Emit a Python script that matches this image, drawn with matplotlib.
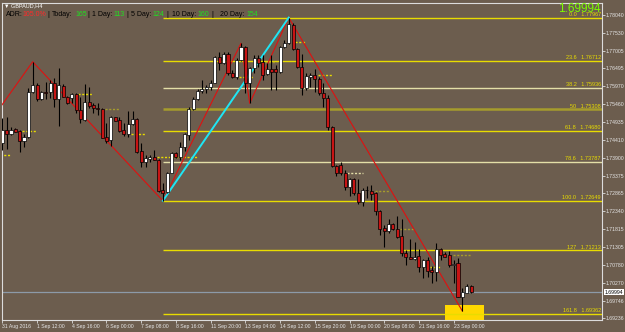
import matplotlib
matplotlib.use("Agg")
import matplotlib.pyplot as plt
import matplotlib.transforms as mtransforms
from matplotlib.patches import Rectangle
import numpy as np

plt.rcParams['font.family'] = ['Liberation Sans Narrow', 'Liberation Sans', 'DejaVu Sans']

# GBPAUD H4 bars, 31 Aug - 23 Sep 2016
opens = [1.74335, 1.74695, 1.74587, 1.74732, 1.74674, 1.74384, 1.74491, 1.75798, 1.76010, 1.75595,
         1.75815, 1.75798, 1.76059, 1.75595, 1.75981, 1.75670, 1.75624, 1.75749, 1.75284, 1.74994,
         1.75525, 1.75429, 1.75342, 1.75313, 1.74491, 1.74413, 1.75072, 1.74994, 1.74703, 1.74587,
         1.74869, 1.75014, 1.74085, 1.73783, 1.73853, 1.73911, 1.73832, 1.72961, 1.72912, 1.73464,
         1.74027, 1.73928, 1.74201, 1.74558, 1.75304, 1.75595, 1.75827, 1.75903, 1.75961, 1.76077,
         1.76814, 1.76657, 1.76910, 1.76350, 1.76251, 1.76736, 1.77105, 1.76059, 1.76495, 1.76785,
         1.76687, 1.76321, 1.76466, 1.76466, 1.76396, 1.77105, 1.77238, 1.77752, 1.77047, 1.76541,
         1.75914, 1.76251, 1.76300, 1.76175, 1.75769, 1.75624, 1.74799, 1.73658, 1.73687, 1.73446,
         1.73040, 1.73272, 1.72865, 1.72622, 1.72952, 1.72941, 1.72865, 1.72351, 1.71849, 1.71771,
         1.71965, 1.71838, 1.71626, 1.71123, 1.71025, 1.70966, 1.71045, 1.70717, 1.70929, 1.70638,
         1.70572, 1.71239, 1.71103, 1.71065, 1.70798, 1.70833, 1.69863, 1.69979, 1.70174]
highs = [1.75052, 1.75081, 1.74790, 1.74753, 1.74703, 1.74587, 1.75923, 1.76687, 1.76077, 1.75836,
         1.76106, 1.76155, 1.76213, 1.76495, 1.76039, 1.75691, 1.75786, 1.75786, 1.75670, 1.76039,
         1.75961, 1.75496, 1.75496, 1.75333, 1.74907, 1.75110, 1.75090, 1.75072, 1.74898, 1.75264,
         1.75255, 1.75043, 1.74326, 1.73977, 1.73977, 1.74123, 1.73853, 1.73156, 1.73493, 1.74073,
         1.74073, 1.74364, 1.74608, 1.75362, 1.75653, 1.75885, 1.76155, 1.76010, 1.76155, 1.76852,
         1.76977, 1.76977, 1.76977, 1.76446, 1.76785, 1.77221, 1.77142, 1.76541, 1.76881, 1.76881,
         1.76881, 1.76640, 1.76881, 1.76591, 1.77142, 1.77317, 1.77967, 1.77802, 1.77076, 1.76910,
         1.76350, 1.76350, 1.76466, 1.76251, 1.76059, 1.75720, 1.74820, 1.73687, 1.73783, 1.73542,
         1.73301, 1.73301, 1.73272, 1.73011, 1.73077, 1.73106, 1.72912, 1.72381, 1.71945, 1.72110,
         1.71994, 1.72198, 1.72110, 1.71219, 1.71530, 1.71460, 1.71239, 1.70949, 1.71025, 1.70754,
         1.71414, 1.71268, 1.71170, 1.71199, 1.70929, 1.70978, 1.70107, 1.70232, 1.70203]
lows = [1.74123, 1.74152, 1.74558, 1.74637, 1.74073, 1.74210, 1.74471, 1.75778, 1.75554, 1.75574,
        1.75603, 1.75624, 1.75380, 1.74828, 1.75653, 1.75450, 1.75479, 1.75188, 1.74898, 1.74973,
        1.75333, 1.75206, 1.75139, 1.74462, 1.74335, 1.74248, 1.74956, 1.74654, 1.74529, 1.74491,
        1.74849, 1.74027, 1.73620, 1.73620, 1.73783, 1.73824, 1.72912, 1.72649, 1.72883, 1.73446,
        1.73882, 1.73832, 1.74102, 1.74413, 1.75284, 1.75574, 1.75786, 1.75769, 1.75865, 1.76059,
        1.76446, 1.76620, 1.76300, 1.76205, 1.76175, 1.76716, 1.75769, 1.75479, 1.76350, 1.76541,
        1.76155, 1.76300, 1.75865, 1.75865, 1.76367, 1.77076, 1.77200, 1.77026, 1.76495, 1.75720,
        1.75865, 1.75961, 1.75815, 1.75720, 1.75380, 1.74703, 1.73638, 1.73368, 1.73397, 1.72961,
        1.72787, 1.72816, 1.72555, 1.72497, 1.72720, 1.72671, 1.72235, 1.71655, 1.71315, 1.71721,
        1.71800, 1.71559, 1.71045, 1.70784, 1.70949, 1.70929, 1.70589, 1.70397, 1.70444, 1.70270,
        1.70328, 1.70929, 1.71007, 1.70717, 1.70261, 1.69846, 1.69448, 1.69962, 1.69962]
closes = [1.74703, 1.74587, 1.74712, 1.74654, 1.74384, 1.74500, 1.75807, 1.76001, 1.75595, 1.75815,
          1.75769, 1.76077, 1.75595, 1.76010, 1.75670, 1.75479, 1.75749, 1.75284, 1.75014, 1.75525,
          1.75409, 1.75333, 1.75325, 1.74480, 1.74384, 1.75072, 1.74973, 1.74683, 1.74587, 1.74878,
          1.75014, 1.74073, 1.73774, 1.73882, 1.73911, 1.73832, 1.72932, 1.72883, 1.73464, 1.74027,
          1.73928, 1.74201, 1.74579, 1.75304, 1.75595, 1.75836, 1.75885, 1.75961, 1.76077, 1.76814,
          1.76657, 1.76910, 1.76350, 1.76251, 1.76736, 1.77105, 1.76059, 1.76495, 1.76785, 1.76640,
          1.76300, 1.76466, 1.76396, 1.76396, 1.77105, 1.77238, 1.77781, 1.77047, 1.76541, 1.75914,
          1.76271, 1.76300, 1.76175, 1.75769, 1.75624, 1.74799, 1.73658, 1.73446, 1.73446, 1.73040,
          1.73272, 1.72865, 1.72622, 1.72961, 1.72976, 1.72845, 1.72351, 1.71820, 1.71771, 1.71965,
          1.71838, 1.71611, 1.71123, 1.71007, 1.70966, 1.71025, 1.70717, 1.70929, 1.70618, 1.70572,
          1.71239, 1.71074, 1.71025, 1.70784, 1.70827, 1.69863, 1.70008, 1.70174, 1.69994]

current_price = 1.69994

# zigzag swing points (bar index, price)
zz_bar = [-0.1, 7, 37, 55, 57, 66, 106]
zz_price = [1.75429, 1.76687, 1.72649, 1.77221, 1.75479, 1.77967, 1.69448]

# fibonacci retracement from bar 37 low to bar 66 high
fib_names = ['0.0', '23.6', '38.2', '50', '61.8', '78.6', '100.0', '127', '161.8']
fib_prices = [1.77967, 1.76712, 1.75936, 1.75308, 1.74680, 1.73787, 1.72649, 1.71213, 1.69362]
fib_start, fib_end = 37, 66

# short dashed level marks (start bar, end bar, price)
mark_start = [-0.5, 4.5, 17.4, 23.7, 29.6, 35.6, 54.5, 60.5, 67.4, 72.7, 79.4, 85.9, 91.6, 98.5, 103.9]
mark_end = [1.8, 8.0, 20.9, 26.9, 32.9, 44.9, 57.8, 63.3, 70.0, 76.0, 83.1, 89.3, 95.1, 100.9, 108.0]
mark_price = [1.73977, 1.74674, 1.75740, 1.75313, 1.74587, 1.73928, 1.76251, 1.76669, 1.77250,
              1.76300, 1.73446, 1.72941, 1.71829, 1.70717, 1.71074]
mark_kind = ['y', 'y', 'y', 'o', 'y', 'y', 'y', 'o', 'y', 'y', 'p', 'o', 'o', 'y', 'o']

# target box
box_bar = [102, 111]
box_top = 1.69622

price_ticks = [1.78040, 1.77530, 1.77005, 1.76495, 1.75970, 1.75460, 1.74935, 1.74410, 1.73900,
               1.73375, 1.72865, 1.72340, 1.71815, 1.71305, 1.70780, 1.70270, 1.69746, 1.69236]
time_bars = [0, 8, 16, 24, 32, 40, 48, 56, 64, 72, 80, 88, 96, 104]
time_labels = ['31 Aug 2016', '1 Sep 12:00', '4 Sep 16:00', '6 Sep 00:00', '7 Sep 08:00',
               '8 Sep 16:00', '11 Sep 20:00', '13 Sep 04:00', '14 Sep 12:00', '15 Sep 20:00',
               '19 Sep 00:00', '20 Sep 08:00', '21 Sep 16:00', '23 Sep 00:00']

BG = '#6c5d4e'
YEL = '#e8dc00'
PALE = '#e4dfa8'
OLIVE = '#a69c2c'

o = np.array(opens); h = np.array(highs); l = np.array(lows); c = np.array(closes)
x = np.arange(len(o))

fig = plt.figure(figsize=(6.25, 3.32), dpi=100, facecolor=BG)
ax = fig.add_axes([2 / 625, 12 / 332, 600 / 625, 317 / 332], facecolor=BG)
ax.set_xlim(-0.07, 138.18)
ax.set_ylim(1.69187, 1.78391)

# target box behind everything
ax.add_patch(Rectangle((box_bar[0], 1.6900), box_bar[1] - box_bar[0], box_top - 1.6900,
                       facecolor='#ffd800', edgecolor='none', zorder=1))

# fibo levels
fib_col = {'38.2': PALE, '78.6': PALE, '50': OLIVE}
trans = mtransforms.blended_transform_factory(ax.transAxes, ax.transData)
for name, p in zip(fib_names, fib_prices):
    col = fib_col.get(name, YEL)
    lw = 1.8 if name == '50' else 1.0
    ax.hlines(p, fib_start, 140, color=col, lw=lw, zorder=2)
    ax.text(0.998, p + 0.00018, f'{name}   {p:.5f}', transform=trans, ha='right', va='bottom',
            fontsize=4.0, color=YEL, zorder=6)

# current price line
ax.axhline(current_price, color='#8c9aa8', lw=0.9, zorder=2)

# dashed marks
kind_col = {'y': YEL, 'o': OLIVE, 'p': PALE}
for s, e, p, k in zip(mark_start, mark_end, mark_price, mark_kind):
    ax.hlines(p, s, e, color=kind_col[k], lw=1.0, linestyles=(0, (1.5, 1.2)), zorder=2)

# zigzag + fibo trend line
ax.plot(zz_bar, zz_price, color='#e01010', lw=0.8, zorder=3)
ax.plot([fib_start, fib_end], [fib_prices[6], fib_prices[0]], color='#1ee6f5', lw=1.4, zorder=3)

# candles
up = c >= o
ax.vlines(x, l, h, color='black', lw=0.8, zorder=4)
body_lo = np.minimum(o, c)
body_h = np.maximum(np.abs(c - o), 0.00006)
ax.bar(x[up], body_h[up], 0.7, bottom=body_lo[up], color='white', edgecolor='black', lw=0.5, zorder=5)
ax.bar(x[~up], body_h[~up], 0.7, bottom=body_lo[~up], color='#c81414', edgecolor='black', lw=0.5, zorder=5)

# axes styling
for sp in ax.spines.values():
    sp.set_color('#dcdcdc')
    sp.set_linewidth(0.8)
ax.yaxis.tick_right()
ax.set_yticks(price_ticks)
ax.set_yticklabels([f'{p:.5f}' for p in price_ticks])
ax.set_xticks(time_bars)
ax.set_xticklabels(time_labels, ha='left')
ax.tick_params(axis='both', colors='#dcdcdc', labelcolor='#e6e6e6', labelsize=3.7,
               length=2.0, width=0.6, pad=0.8)

ax.text(1.004, current_price, f'{current_price:.5f}', transform=trans, ha='left', va='center',
        fontsize=3.7, color='black', clip_on=False, zorder=7,
        bbox=dict(boxstyle='square,pad=0.15', fc='white', ec='none'))

# header texts
fig.text(4 / 625, 1 - 5.5 / 332, '\u25bc GBPAUD,H4', color='white', fontsize=4.0, va='center',
         family=['Liberation Sans', 'DejaVu Sans'])
header = [('ADR:', 6, 'black'), ('105.0%', 22, '#ff2a2a'), ('|', 47, 'black'),
          ('Today:', 51.5, 'black'), ('165', 75, '#20e020'), ('|', 87, 'black'),
          ('1 Day:', 91.5, 'black'), ('113', 113, '#20e020'), ('|', 126.5, 'black'),
          ('5 Day:', 131, 'black'), ('124', 152.5, '#20e020'), ('|', 166.5, 'black'),
          ('10 Day:', 171.5, 'black'), ('160', 197, '#20e020'), ('|', 211, 'black'),
          ('20 Day:', 220, 'black'), ('154', 246, '#20e020')]
for txt, px, col in header:
    fig.text(px / 625, 1 - 14.3 / 332, txt, color=col, fontsize=5.0, va='center',
             family=['Liberation Sans', 'DejaVu Sans'])

fig.text(601 / 625, 1 - 9.5 / 332, f'{current_price:.5f}', color='#7cfc00', fontsize=8.5,
         ha='right', va='center', family=['Liberation Sans', 'DejaVu Sans'])

fig.savefig('out.png', dpi=100, facecolor=BG)
